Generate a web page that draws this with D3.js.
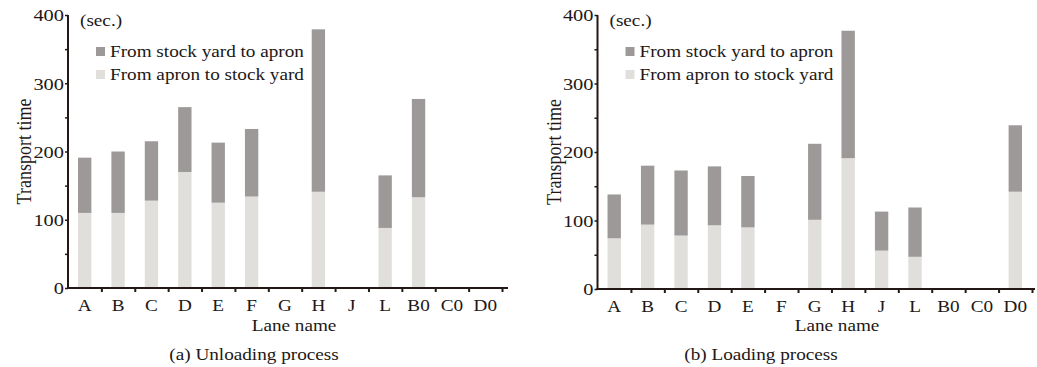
<!DOCTYPE html>
<html>
<head>
<meta charset="utf-8">
<script src="https://cdn.jsdelivr.net/npm/d3@7"></script>
<style>
  body { margin: 0; background: #fff; }
  text { font-family: "Liberation Serif", "Times New Roman", serif; fill: #231815; }
</style>
</head>
<body>
<div id="chart"></div>
<script>
// lane names (same order on both panels)
let lanes = ["A", "B", "C", "D", "E", "F", "G", "H", "J", "L", "B0", "C0", "D0"];

// (a) unloading, seconds
let unloadApronToYard = [110, 110, 128, 170, 125, 134, 0, 141, 0, 88, 133, 0, 0];
let unloadYardToApron = [81, 90, 87, 95, 88, 99, 0, 238, 0, 77, 144, 0, 0];

// (b) loading, seconds
let loadApronToYard = [74, 94, 78, 93, 90, 0, 101, 191, 56, 47, 0, 0, 142];
let loadYardToApron = [64, 86, 95, 86, 75, 0, 111, 186, 57, 72, 0, 0, 97];

let yTicks = [0, 100, 200, 300, 400];
let seriesNames = ["From stock yard to apron", "From apron to stock yard"];
let captions = ["(a) Unloading process", "(b) Loading process"];

let width = 1037;
let height = 367;
let ink = "#231815";
let darkFill = "#9d9999";
let lightFill = "#e0dfdb";
let sx = 1.2; // the original figure is stretched sideways

let svg = d3.select("#chart")
  .append("svg")
  .attr("width", width)
  .attr("height", height);

function drawPanel(cfg) {
  let g = svg.append("g");

  let xScale = d3.scaleBand()
    .domain(lanes)
    .range([cfg.left, cfg.right])
    .paddingInner(0.6)
    .paddingOuter(0.3);

  let yScale = d3.scaleLinear()
    .domain([0, 400])
    .range([cfg.bottom, cfg.top]);

  let rows = lanes.map(function(d, i) {
    return { lane: d, lower: cfg.lower[i], upper: cfg.upper[i] };
  });
  let stacked = d3.stack().keys(["lower", "upper"])(rows);
  let fills = { lower: lightFill, upper: darkFill };

  g.selectAll("g.layer")
    .data(stacked)
    .enter()
    .append("g")
    .attr("class", "layer")
    .attr("fill", function(d) { return fills[d.key]; })
    .selectAll("rect")
    .data(function(d) { return d; })
    .enter()
    .filter(function(d) { return d[1] > d[0]; })
    .append("rect")
    .attr("x", function(d) { return xScale(d.data.lane); })
    .attr("width", xScale.bandwidth())
    .attr("y", function(d) { return yScale(d[1]); })
    .attr("height", function(d) { return yScale(d[0]) - yScale(d[1]); });

  // y axis
  let yAxis = d3.axisLeft(yScale)
    .tickValues(d3.range(0, 401, 50))
    .tickSize(3)
    .tickFormat(function(d) { return yTicks.indexOf(d) >= 0 ? d : ""; });
  let yg = g.append("g")
    .attr("transform", "translate(" + cfg.left + ",0)")
    .call(yAxis);
  yg.select(".domain").remove();
  yg.selectAll("line").attr("stroke", ink).attr("stroke-width", 1.5);
  yg.selectAll("text")
    .attr("x", -4 / sx)
    .attr("dy", "0.34em")
    .attr("transform", "scale(" + sx + ",1)")
    .style("font-size", "17px")
    .attr("fill", ink);
  g.append("line")
    .attr("x1", cfg.left).attr("x2", cfg.left)
    .attr("y1", yScale(400)).attr("y2", yScale(0) + 1)
    .attr("stroke", ink).attr("stroke-width", 2);

  // x axis: labels on band centres, ticks on band edges
  let xAxis = d3.axisBottom(xScale).tickSize(0).tickPadding(12);
  let xg = g.append("g")
    .attr("transform", "translate(0," + cfg.bottom + ")")
    .call(xAxis);
  xg.select(".domain").remove();
  xg.selectAll("text")
    .attr("transform", "scale(" + sx + ",1)")
    .style("font-size", "16px")
    .attr("fill", ink);

  let edgeScale = d3.scaleLinear().domain([0, lanes.length]).range([cfg.left, cfg.right]);
  let eg = g.append("g")
    .attr("transform", "translate(0," + cfg.bottom + ")")
    .call(d3.axisBottom(edgeScale).tickValues(d3.range(1, lanes.length + 1)).tickSize(4).tickFormat(""));
  eg.select(".domain").remove();
  eg.selectAll("line").attr("stroke", ink).attr("stroke-width", 2);
  g.append("line")
    .attr("x1", cfg.left - 1).attr("x2", cfg.axisEnd)
    .attr("y1", cfg.bottom).attr("y2", cfg.bottom)
    .attr("stroke", ink).attr("stroke-width", 2);

  // texts
  function label(txt, x, y, anchor, size, extra) {
    return g.append("text")
      .attr("transform", "translate(" + x + "," + y + ")" + (extra || " scale(" + sx + ",1)"))
      .attr("text-anchor", anchor)
      .style("font-size", size + "px")
      .text(txt);
  }
  label("(sec.)", cfg.left + 12, 26, "start", 16);
  label("Lane name", cfg.laneX, 331, "middle", 16);
  label(cfg.caption, cfg.capX, 360, "middle", 16);
  label("Transport time", cfg.left - 37, (cfg.top + cfg.bottom) / 2, "middle", 18, " rotate(-90) scale(1," + sx + ")");

  // legend
  let legend = g.append("g")
    .attr("transform", "translate(" + (cfg.left + 28) + ",47)");
  let legFills = [darkFill, lightFill];
  seriesNames.forEach(function(name, i) {
    legend.append("rect")
      .attr("x", 0).attr("y", i * 23)
      .attr("width", 9).attr("height", 9)
      .attr("fill", legFills[i]);
    legend.append("text")
      .attr("transform", "translate(14," + (i * 23 + 10) + ") scale(" + sx + ",1)")
      .style("font-size", "16px")
      .text(name);
  });
}

drawPanel({
  left: 68, right: 502, axisEnd: 508, top: 15, bottom: 288,
  lower: unloadApronToYard, upper: unloadYardToApron,
  caption: captions[0], laneX: 294, capX: 254
});
drawPanel({
  left: 597.5, right: 1032, axisEnd: 1035, top: 15, bottom: 289,
  lower: loadApronToYard, upper: loadYardToApron,
  caption: captions[1], laneX: 837, capX: 761
});
</script>
</body>
</html>
